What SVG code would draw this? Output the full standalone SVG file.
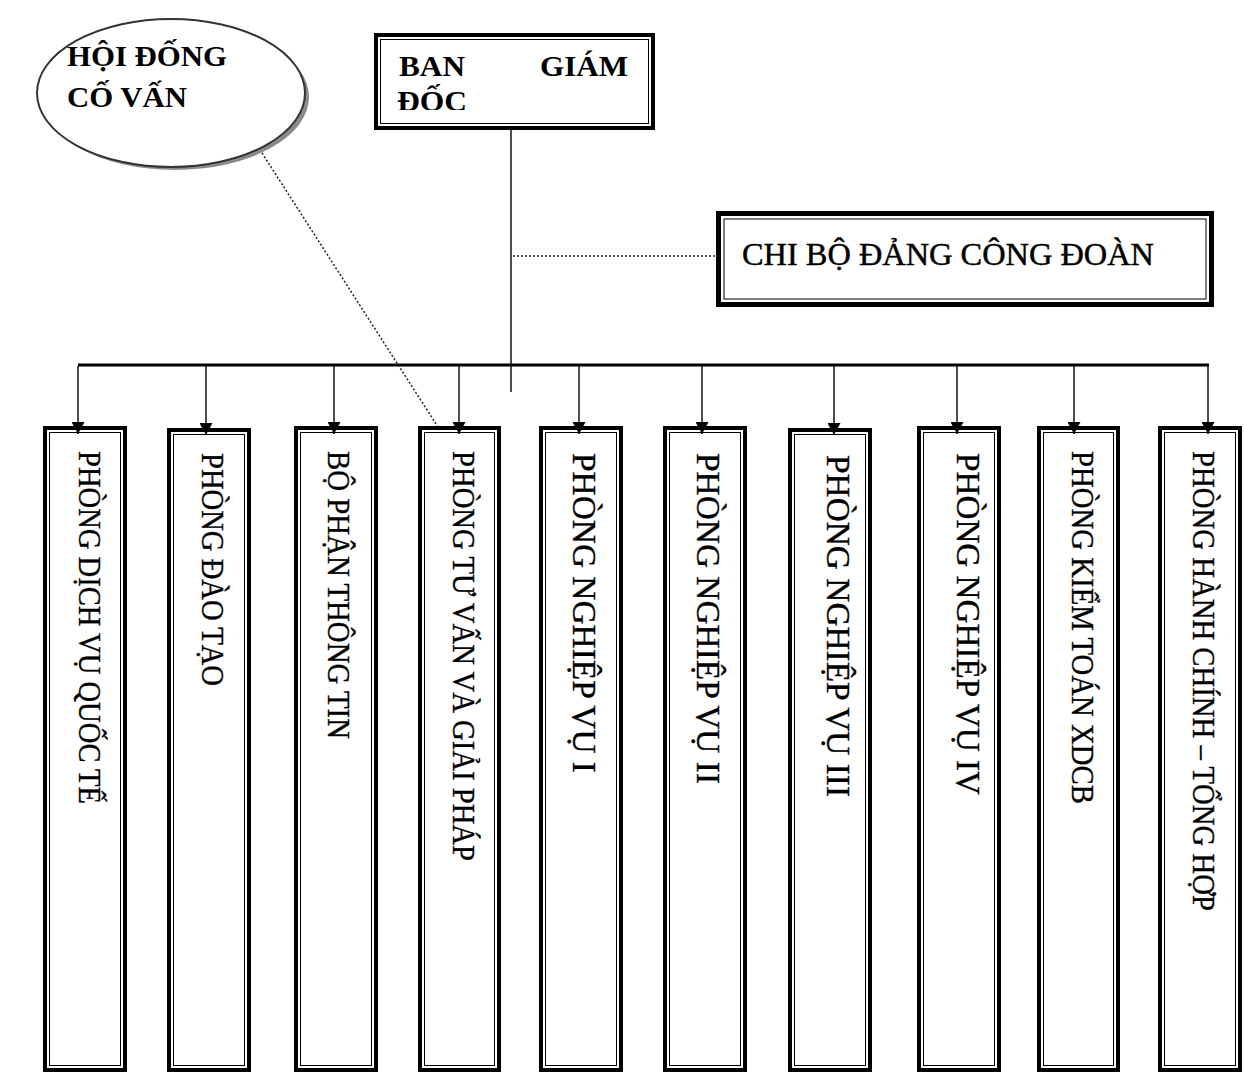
<svg xmlns="http://www.w3.org/2000/svg" width="1244" height="1073" viewBox="0 0 1244 1073">
<style>
.thick{fill:none;stroke:#000;stroke-width:4}
.thin{fill:none;stroke:#000;stroke-width:1}
.bg{fill:#fff}
.vt{font-family:"Liberation Serif","Times New Roman",serif;font-size:31.5px;fill:#000;stroke:#000;stroke-width:0.35}
.vb{font-family:"Liberation Serif","Times New Roman",serif;font-size:34.5px;fill:#000;stroke:#000;stroke-width:0.35}
.bt{font-family:"Liberation Serif","Times New Roman",serif;font-size:29px;font-weight:bold;fill:#000}
.rt{font-family:"Liberation Serif","Times New Roman",serif;font-size:32px;fill:#000;stroke:#000;stroke-width:0.45}
.ln{stroke:#000;stroke-width:1.4;fill:none}
.dot{stroke:#222;stroke-width:1.5;stroke-dasharray:2 2;fill:none}
</style>
<defs>
<marker id="arr" markerUnits="userSpaceOnUse" markerWidth="13" markerHeight="13" refX="12" refY="6.5" orient="auto">
<path d="M0,0 L12,6.5 L0,13 z" fill="#000"/>
</marker>
<clipPath id="banclip"><rect x="380" y="40" width="270" height="70"/></clipPath>
</defs>
<rect width="1244" height="1073" fill="#fff"/>

<g id="hoi-dong-co-van">
<ellipse cx="175" cy="97" rx="134" ry="73" fill="#8a8a8a"/>
<ellipse cx="171" cy="93" rx="134" ry="74" fill="#fff" stroke="#333" stroke-width="2"/>
<text class="bt" x="67" y="66" textLength="160" lengthAdjust="spacingAndGlyphs">HỘI ĐỐNG</text>
<text class="bt" x="67" y="107" textLength="120" lengthAdjust="spacingAndGlyphs">CỐ VẤN</text>
</g>

<g id="ban-giam-doc">
<rect class="bg" x="374" y="33" width="281" height="97"/>
<rect class="thick" x="376" y="35" width="277" height="93"/>
<rect class="thin" x="380.5" y="39.5" width="268" height="84"/>
<text class="bt" x="399" y="76" textLength="66" lengthAdjust="spacingAndGlyphs">BAN</text>
<text class="bt" x="540" y="76" textLength="88" lengthAdjust="spacingAndGlyphs">GIÁM</text>
<text class="bt" x="397" y="111" textLength="70" lengthAdjust="spacingAndGlyphs" clip-path="url(#banclip)">ĐỐC</text>
</g>

<g id="chi-bo">
<rect class="bg" x="716" y="211" width="498" height="96"/>
<rect class="thick" x="718.5" y="213.5" width="493" height="91" style="stroke-width:5"/>
<rect class="thin" x="724" y="219" width="482" height="80"/>
<text class="rt" x="742" y="265" textLength="412" lengthAdjust="spacingAndGlyphs">CHI BỘ ĐẢNG CÔNG ĐOÀN</text>
</g>

<g id="connectors">
<line class="ln" x1="511" y1="128" x2="511" y2="392"/>
<line x1="78" y1="365" x2="1209" y2="365" stroke="#000" stroke-width="3"/>
<line class="dot" x1="513" y1="256" x2="716" y2="256"/>
<line class="dot" x1="262" y1="153" x2="438" y2="427"/>
<line class="ln" x1="78" y1="366" x2="78" y2="434" marker-end="url(#arr)"/>
<line class="ln" x1="206" y1="366" x2="206" y2="435" marker-end="url(#arr)"/>
<line class="ln" x1="334" y1="366" x2="334" y2="434" marker-end="url(#arr)"/>
<line class="ln" x1="459" y1="366" x2="459" y2="434" marker-end="url(#arr)"/>
<line class="ln" x1="579" y1="366" x2="579" y2="434" marker-end="url(#arr)"/>
<line class="ln" x1="702" y1="366" x2="702" y2="434" marker-end="url(#arr)"/>
<line class="ln" x1="834" y1="366" x2="834" y2="435" marker-end="url(#arr)"/>
<line class="ln" x1="957" y1="366" x2="957" y2="434" marker-end="url(#arr)"/>
<line class="ln" x1="1074" y1="366" x2="1074" y2="434" marker-end="url(#arr)"/>
<line class="ln" x1="1208" y1="366" x2="1208" y2="434" marker-end="url(#arr)"/>
</g>

<g id="phong-dich-vu-quoc-te">
<rect class="thick" x="45" y="428" width="80" height="642"/>
<rect class="thin" x="49.5" y="432.5" width="71" height="633"/>
<text class="vt" x="79" y="451" transform="rotate(90 79 451)" textLength="353" lengthAdjust="spacingAndGlyphs">PHÒNG DỊCH VỤ QUỐC TẾ</text>
</g>
<g id="phong-dao-tao">
<rect class="thick" x="169" y="430" width="80" height="640"/>
<rect class="thin" x="173.5" y="434.5" width="71" height="631"/>
<text class="vt" x="202" y="453" transform="rotate(90 202 453)" textLength="233" lengthAdjust="spacingAndGlyphs">PHÒNG ĐÀO TẠO</text>
</g>
<g id="bo-phan-thong-tin">
<rect class="thick" x="296" y="428" width="80" height="642"/>
<rect class="thin" x="300.5" y="432.5" width="71" height="633"/>
<text class="vt" x="328" y="451" transform="rotate(90 328 451)" textLength="288" lengthAdjust="spacingAndGlyphs">BỘ PHẬN THÔNG TIN</text>
</g>
<g id="phong-tu-van-va-giai-phap">
<rect class="thick" x="420" y="428" width="79" height="642"/>
<rect class="thin" x="424.5" y="432.5" width="70" height="633"/>
<text class="vt" x="453" y="451" transform="rotate(90 453 451)" textLength="410" lengthAdjust="spacingAndGlyphs">PHÒNG TƯ VẤN VÀ GIẢI PHÁP</text>
</g>
<g id="phong-nghiep-vu-1">
<rect class="thick" x="541" y="428" width="80" height="642"/>
<rect class="thin" x="545.5" y="432.5" width="71" height="633"/>
<text class="vb" x="573" y="453" transform="rotate(90 573 453)" textLength="320" lengthAdjust="spacingAndGlyphs">PHÒNG NGHIỆP VỤ I</text>
</g>
<g id="phong-nghiep-vu-2">
<rect class="thick" x="665" y="428" width="80" height="642"/>
<rect class="thin" x="669.5" y="432.5" width="71" height="633"/>
<text class="vb" x="697" y="453" transform="rotate(90 697 453)" textLength="331" lengthAdjust="spacingAndGlyphs">PHÒNG NGHIỆP VỤ II</text>
</g>
<g id="phong-nghiep-vu-3">
<rect class="thick" x="790" y="430" width="80" height="640"/>
<rect class="thin" x="794.5" y="434.5" width="71" height="631"/>
<text class="vb" x="827" y="455" transform="rotate(90 827 455)" textLength="342" lengthAdjust="spacingAndGlyphs">PHÒNG NGHIỆP VỤ III</text>
</g>
<g id="phong-nghiep-vu-4">
<rect class="thick" x="919" y="428" width="80" height="642"/>
<rect class="thin" x="923.5" y="432.5" width="71" height="633"/>
<text class="vb" x="957" y="453" transform="rotate(90 957 453)" textLength="342" lengthAdjust="spacingAndGlyphs">PHÒNG NGHIỆP VỤ IV</text>
</g>
<g id="phong-kiem-toan-xdcb">
<rect class="thick" x="1039" y="428" width="79" height="642"/>
<rect class="thin" x="1043.5" y="432.5" width="70" height="633"/>
<text class="vt" x="1072" y="451" transform="rotate(90 1072 451)" textLength="353" lengthAdjust="spacingAndGlyphs">PHÒNG KIỂM TOÁN XDCB</text>
</g>
<g id="phong-hanh-chinh-tong-hop">
<rect class="thick" x="1160" y="428" width="80" height="642"/>
<rect class="thin" x="1164.5" y="432.5" width="71" height="633"/>
<text class="vt" x="1193" y="451" transform="rotate(90 1193 451)" textLength="460" lengthAdjust="spacingAndGlyphs">PHÒNG HÀNH CHÍNH – TỔNG HỢP</text>
</g>
</svg>
